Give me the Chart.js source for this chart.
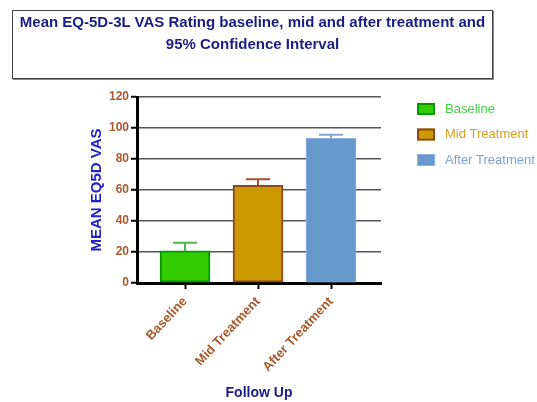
<!DOCTYPE html>
<html>
<head>
<meta charset="utf-8">
<script src="https://cdn.jsdelivr.net/npm/chart.js@4"></script>
<style>
  html, body { margin: 0; padding: 0; background: #fff; }
  #wrap { position: relative; width: 537px; height: 402px; }
  #title {
    position: absolute; left: 12px; top: 10px; width: 479px; height: 67px;
    border: 1px solid #444; box-shadow: 1px 1px 0 #888;
    font: bold 15px "Liberation Sans", Arial, sans-serif; color: #1c1c84;
    text-align: center; line-height: 22px; background: #fff;
  }
  canvas { position: absolute; left: 0; top: 0; }
</style>
</head>
<body>
<div id="wrap">
  <canvas id="c" width="537" height="402"></canvas>
  <div id="title">Mean EQ-5D-3L VAS Rating baseline, mid and after treatment and<br>95% Confidence Interval</div>
</div>
<script>
const categories = ["Baseline", "Mid Treatment", "After Treatment"];
const meanValues = [20.7, 63.0, 93.3];
const upperCI = [26.0, 67.0, 95.6];
const yTicks = [0, 20, 40, 60, 80, 100, 120];

const fillColors = ["#33cc00", "#cc9900", "#6699cc"];
const borderColors = ["#009900", "#8b4a1c", "#8fb2dd"];
const borderWidths = [2, 2, 1];
const errColors = ["#4cb84c", "#a0522d", "#7fa8d8"];
const legendTextColors = ["#44d044", "#d4a020", "#7aa2d4"];
const tickColor = "#a9582a";

const errorBars = {
  id: 'errorBars',
  afterDatasetsDraw(chart) {
    const meta = chart.getDatasetMeta(0);
    const ys = chart.scales.y;
    const ctx = chart.ctx;
    ctx.save();
    meta.data.forEach((bar, i) => {
      const x = bar.x;
      const yb = bar.y;
      const yt = ys.getPixelForValue(upperCI[i]);
      ctx.strokeStyle = errColors[i];
      ctx.lineWidth = 2;
      ctx.beginPath();
      ctx.moveTo(x, yb); ctx.lineTo(x, yt);
      ctx.moveTo(x - 12, yt); ctx.lineTo(x + 12, yt);
      ctx.stroke();
    });
    ctx.restore();
  }
};

const customLegend = {
  id: 'customLegend',
  afterDraw(chart) {
    const ctx = chart.ctx;
    const ca = chart.chartArea;
    ctx.save();
    ctx.font = '13px "Liberation Sans", Arial, sans-serif';
    ctx.textBaseline = 'middle';
    categories.forEach((c, i) => {
      const bx = ca.right + 36, by = ca.top + 6 + i * 25.5;
      ctx.fillStyle = fillColors[i];
      ctx.fillRect(bx, by, 18, 12);
      ctx.strokeStyle = borderColors[i];
      ctx.lineWidth = borderWidths[i];
      ctx.strokeRect(bx + borderWidths[i]/2, by + borderWidths[i]/2, 18 - borderWidths[i], 12 - borderWidths[i]);
      ctx.fillStyle = legendTextColors[i];
      ctx.fillText(c, bx + 28, by + 6);
    });
    ctx.restore();
  }
};

new Chart(document.getElementById('c'), {
  type: 'bar',
  data: {
    datasets: [{
      data: categories.map((c, i) => ({ x: i, y: meanValues[i] })),
      backgroundColor: fillColors,
      borderColor: borderColors,
      borderWidth: borderWidths,
      borderSkipped: false,
      barThickness: 50
    }]
  },
  options: {
    responsive: false,
    animation: false,
    layout: { padding: { left: 0, top: 97, right: 156, bottom: 0 } },
    plugins: { legend: { display: false }, tooltip: { enabled: false } },
    scales: {
      x: {
        type: 'linear',
        offset: false,
        min: -0.658, max: 2.685,
        afterBuildTicks: axis => { axis.ticks = categories.map((c, i) => ({ value: i })); },
        afterFit: s => { s.height = 119; },
        ticks: {
          callback: v => categories[v],
          color: tickColor,
          font: { family: '"Liberation Sans", Arial, sans-serif', size: 13, weight: 'bold' },
          minRotation: 47, maxRotation: 47, padding: 5, autoSkip: false
        },
        grid: { offset: false, drawOnChartArea: false, drawTicks: true, tickLength: 6, tickColor: '#000', tickWidth: 2 },
        border: { color: '#000', width: 3 },
        title: {
          display: true, text: 'Follow Up', color: '#1c1c84',
          font: { family: '"Liberation Sans", Arial, sans-serif', size: 14, weight: 'bold' },
          padding: { top: 0, bottom: 0 }
        }
      },
      y: {
        min: 0, max: 120,
        afterBuildTicks: axis => { axis.ticks = yTicks.map(v => ({ value: v })); },
        afterFit: s => { s.width = 137; },
        ticks: {
          color: tickColor,
          font: { family: '"Liberation Sans", Arial, sans-serif', size: 12, weight: 'bold' },
          padding: 2
        },
        grid: { color: '#555', lineWidth: 1.5, tickLength: 6, tickColor: '#000', tickWidth: 2 },
        border: { color: '#000', width: 3 },
        title: {
          display: true, text: 'MEAN EQ5D VAS', color: '#2323c8',
          font: { family: '"Liberation Sans", Arial, sans-serif', size: 15, weight: 'bold' },
          padding: { top: 88, bottom: 0 }
        }
      }
    }
  },
  plugins: [errorBars, customLegend]
});
</script>
</body>
</html>
